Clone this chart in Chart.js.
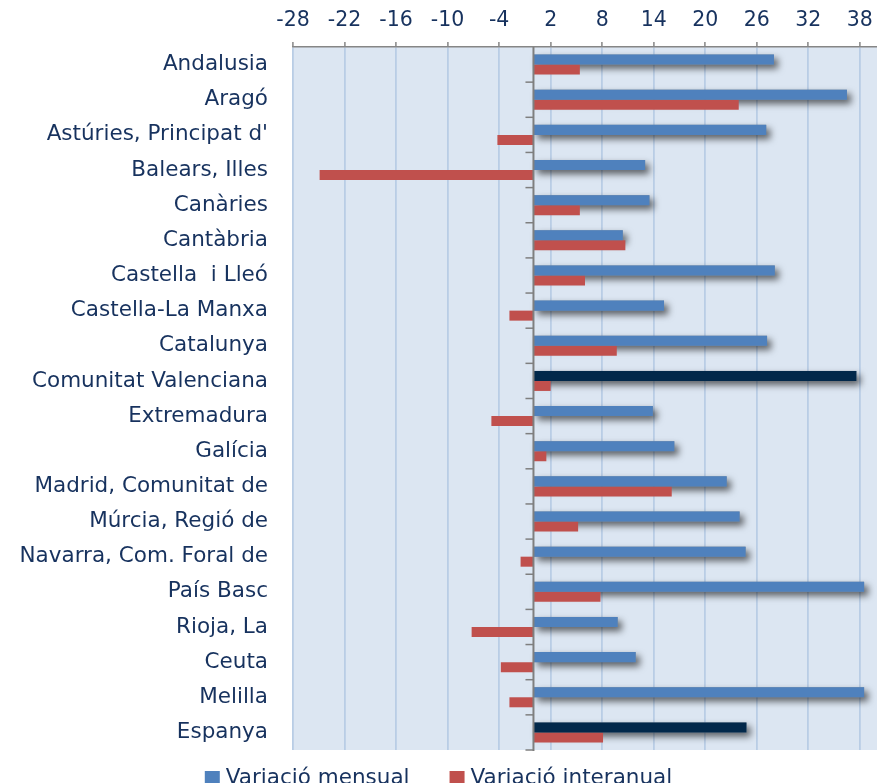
<!DOCTYPE html>
<html>
<head>
<meta charset="utf-8">
<script src="https://cdn.jsdelivr.net/npm/chart.js@4.4.1/dist/chart.umd.min.js"></script>
<style>
  html, body { margin: 0; padding: 0; background: #ffffff; }
  #wrap { width: 877px; height: 783px; position: relative; }
</style>
</head>
<body>
<div id="wrap"><canvas id="c"></canvas></div>
<script>
const categories = [
  'Andalusia', 'Aragó', "Astúries, Principat d'", 'Balears, Illes', 'Canàries',
  'Cantàbria', 'Castella  i Lleó', 'Castella-La Manxa', 'Catalunya', 'Comunitat Valenciana',
  'Extremadura', 'Galícia', 'Madrid, Comunitat de', 'Múrcia, Regió de', 'Navarra, Com. Foral de',
  'País Basc', 'Rioja, La', 'Ceuta', 'Melilla', 'Espanya'
];
const mensual = [28.0, 36.5, 27.1, 13.0, 13.5, 10.4, 28.1, 15.2, 27.2, 37.6, 13.9, 16.4, 22.5, 24.0, 24.7, 38.5, 9.8, 11.9, 38.5, 24.8];
const interanual = [5.4, 23.9, -4.2, -24.9, 5.4, 10.7, 6.0, -2.8, 9.7, 2.0, -4.9, 1.5, 16.1, 5.2, -1.5, 7.8, -7.2, -3.8, -2.8, 8.1];
const highlighted = ['Comunitat Valenciana', 'Espanya'];
const xTicks = [-28, -22, -16, -10, -4, 2, 8, 14, 20, 26, 32, 38];
const seriesNames = ['Variació mensual', 'Variació interanual'];

const BLUE = '#4F81BD', RED = '#C0504D', DARK = '#02284A';
const TEXT = '#17325E';
const FONT = "'DejaVu Sans', sans-serif";

const bgPlugin = {
  id: 'bg',
  beforeDraw(chart) {
    const { ctx, chartArea: a } = chart;
    ctx.save();
    ctx.fillStyle = '#DCE6F2';
    ctx.fillRect(a.left, a.top, a.right - a.left, a.bottom - a.top);
    ctx.restore();
  }
};

const shadowPlugin = {
  id: 'shadow',
  beforeDatasetsDraw(chart) {
    const ctx = chart.ctx;
    const meta = chart.getDatasetMeta(0);
    ctx.save();
    ctx.shadowColor = 'rgba(0,0,0,0.6)';
    ctx.shadowBlur = 7;
    ctx.shadowOffsetX = 4;
    ctx.shadowOffsetY = 4;
    ctx.fillStyle = '#7f8ea0';
    meta.data.forEach(bar => {
      const p = bar.getProps(['x', 'y', 'base', 'height'], true);
      ctx.fillRect(Math.min(p.x, p.base), p.y - p.height / 2, Math.abs(p.x - p.base), p.height);
    });
    ctx.restore();
  }
};

const zeroPlugin = {
  id: 'zero',
  afterDatasetsDraw(chart) {
    const { ctx, chartArea: a, scales } = chart;
    const x0 = scales.x.getPixelForValue(0);
    ctx.save();
    ctx.strokeStyle = '#7F7F7F';
    ctx.lineWidth = 2;
    ctx.beginPath();
    ctx.moveTo(x0, a.top);
    ctx.lineTo(x0, a.bottom + 1);
    ctx.stroke();
    ctx.lineWidth = 1.5;
    for (let i = 0; i < categories.length; i++) {
      const y = scales.y.getPixelForValue(i + 0.5);
      ctx.beginPath();
      ctx.moveTo(x0 - 8, y);
      ctx.lineTo(x0, y);
      ctx.stroke();
    }
    ctx.restore();
  }
};

const legendPlugin = {
  id: 'customLegend',
  afterDraw(chart) {
    const ctx = chart.ctx;
    ctx.save();
    ctx.font = '21.5px ' + FONT;
    const box = 15, gapBox = 6, gapItems = 40;
    const colors = [BLUE, RED];
    const widths = seriesNames.map(n => ctx.measureText(n).width);
    let total = 0;
    widths.forEach((w, i) => { total += box + gapBox + w + (i < widths.length - 1 ? gapItems : 0); });
    let x = (chart.width - total) / 2;
    const baseline = 784;
    seriesNames.forEach((n, i) => {
      ctx.fillStyle = colors[i];
      ctx.fillRect(x, 771, box, box);
      ctx.fillStyle = TEXT;
      ctx.textBaseline = 'alphabetic';
      ctx.textAlign = 'left';
      ctx.fillText(n, x + box + gapBox, baseline);
      x += box + gapBox + widths[i] + gapItems;
    });
    ctx.restore();
  }
};

new Chart(document.getElementById('c'), {
  type: 'bar',
  data: {
    labels: categories,
    datasets: [
      {
        label: seriesNames[0],
        data: mensual,
        backgroundColor: categories.map(c => highlighted.includes(c) ? DARK : BLUE),
        borderWidth: 0,
        categoryPercentage: 0.57,
        barPercentage: 1.0
      },
      {
        label: seriesNames[1],
        data: interanual,
        backgroundColor: RED,
        borderWidth: 0,
        categoryPercentage: 0.57,
        barPercentage: 1.0
      }
    ]
  },
  options: {
    indexAxis: 'y',
    responsive: true,
    maintainAspectRatio: false,
    animation: false,
    devicePixelRatio: 1,
    layout: { padding: { left: 0, right: 0, top: 0, bottom: 33 } },
    plugins: {
      legend: { display: false },
      tooltip: { enabled: false }
    },
    scales: {
      x: {
        position: 'top',
        min: -28,
        max: 40,
        afterBuildTicks(scale) { scale.ticks = xTicks.map(v => ({ value: v })); },
        afterFit(scale) { scale.height = 47; scale.paddingLeft = 0; scale.paddingRight = 0; },
        grid: {
          color: '#B9CDE5',
          lineWidth: 1.8,
          drawTicks: true,
          tickLength: 5,
          tickColor: '#868686',
          tickWidth: 1.5
        },
        border: { display: true, color: '#868686', width: 1.5 },
        ticks: {
          color: TEXT,
          font: { family: FONT, size: 20.5 },
          padding: 9,
          maxRotation: 0,
          autoSkip: false
        }
      },
      y: {
        position: 'left',
        afterFit(scale) { scale.width = 293; scale.paddingTop = 0; scale.paddingBottom = 0; },
        grid: { display: false, drawTicks: false },
        border: { display: false },
        ticks: {
          color: TEXT,
          font: { family: FONT, size: 21.5 },
          padding: 25,
          autoSkip: false
        }
      }
    }
  },
  plugins: [bgPlugin, shadowPlugin, zeroPlugin, legendPlugin]
});
</script>
</body>
</html>
